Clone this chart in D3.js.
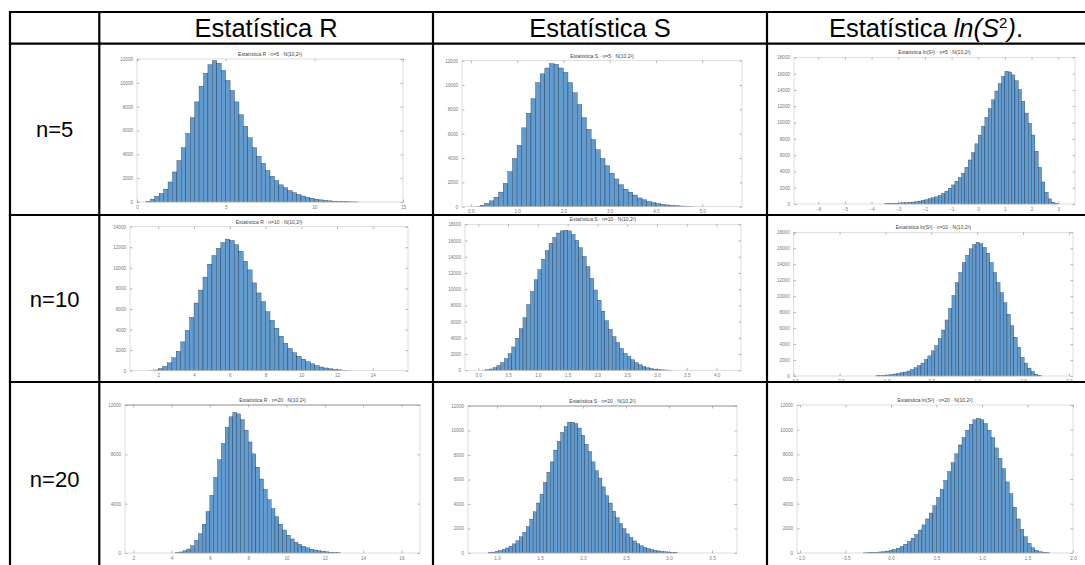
<!DOCTYPE html>
<html><head><meta charset="utf-8">
<script src="https://cdn.jsdelivr.net/npm/d3@7"></script>
<style>body{margin:0;background:#fff;} svg{display:block;font-family:"Liberation Sans",Arial,sans-serif;}</style>
</head><body><svg id="c" width="1085" height="565"></svg>
<script>
// ---------------- data ----------------
const columnHeaders = ["Estatística R", "Estatística S", "Estatística ln(S²)."];
const rowLabels = ["n=5", "n=10", "n=20"];
const plotTitles = [
  "Estatística R · n=5 · N(10,2²)", "Estatística S · n=5 · N(10,2²)", "Estatística ln(S²) · n=5 · N(10,2²)",
  "Estatística R · n=10 · N(10,2²)", "Estatística S · n=10 · N(10,2²)", "Estatística ln(S²) · n=10 · N(10,2²)",
  "Estatística R · n=20 · N(10,2²)", "Estatística S · n=20 · N(10,2²)", "Estatística ln(S²) · n=20 · N(10,2²)"
];
// histogram bins: [first bin start, bin width]; heights in % of the axis top
const rN5Bin = [0, 0.25];
const rN5 = [0,0,0.5,2,4,6,9,14,21,29,38,48,59,70,81,90,96,99,97,92,85,78,70,61,53,45,38,32,27,22,18,15,12,10,8,6.5,5.2,4.2,3.3,2.6,2,1.5,1.1,0.8,0.6,0.4,0.3,0.2,0.1,0.05];
const sN5Bin = [0, 0.1];
const sN5 = [0,0.2,1,2.3,4,6.5,10,16,24,33,42,54,64,74,85,91,95,98,97.5,95,92,85,78,70,61,53,46,39,33,28,23,19,15,12,10,8,6,4.8,3.6,2.8,2.2,1.6,1.2,0.9,0.7,0.5,0.4,0.3];
const lN5Bin = [-3.5, 0.125];
const lN5 = [0.3,0.4,0.5,0.6,0.7,0.8,0.9,1.1,1.3,1.6,2.0,2.5,3.0,3.6,4.2,4.9,5.8,7.2,8.8,10.8,13,15.5,18,21,25,30,35,41,47,53,59,65,71,77,82,87,90.5,90,88,84,78,70,62,55,47,36,25,15,8,3.5,1.2,0.3];
const rN10Bin = [1.5, 0.25];
const rN10 = [0.1,0.5,1.5,3,5.5,9,13.5,20,28,37,47,56,65,74,80,85,89,91.4,90.5,87.5,83,76,70,61,54,48,41,35,29.5,24,19,15.5,12.5,10,8,6.2,4.8,3.6,2.6,1.9,1.3,0.9,0.6,0.35,0.2];
const sN10Bin = [0, 0.0625];
const sN10 = [0,0.1,0.4,0.9,1.8,3.3,5.3,8,11.5,16,22,28.5,36,45,54,62,69,76,82,87,91,94,95.5,96,95.5,93,89,84,78,71,63,55,48,40.5,34,28,23,19,15,11.5,9.5,7.2,5.2,3.8,2.6,1.8,1.2,0.8,0.5,0.3,0.2,0.1];
const lN10Bin = [-1.2, 0.075];
const lN10 = [0.2,0.3,0.5,0.7,1.0,1.4,1.8,2.3,2.8,3.5,4.5,5.8,7.3,9,11.5,14,17.5,21,26,32,39,47,56,65,72,79,84,88.5,91.5,93,92,89.5,85.5,79,72,65,58,51,43,35,27,20,13,9,5.5,3,1.2,0.4];
const rN20Bin = [4.2, 0.2];
const rN20 = [0.2,0.7,1.5,2.7,5,8.5,13,19.5,28,39,51,63,74,85,92,95,94,90,83,75,67,58,50,43,36,30,24.5,19.5,15.5,12,9.5,7.3,5.8,4.5,3.5,2.6,2,1.5,1.1,0.8,0.5,0.3,0.2];
const sN20Bin = [0.9, 0.04];
const sN20 = [0.3,0.6,1.0,1.6,2.4,3.4,4.6,6.2,8.3,11,14,18,23,28,34,40,48,55,62,70,76,82,86,89,89,88,85,80,74,69,62,56,51,45,39,34,28.5,24,20,16.5,13,10.5,8.2,6.3,4.9,3.8,3,2.3,1.8,1.4,1,0.8,0.6,0.4,0.3];
const lN20Bin = [-0.3, 0.04];
const lN20 = [0.1,0.2,0.3,0.5,0.7,0.9,1.3,1.8,2.4,3.3,4.4,6,7.8,10,12.5,15.5,19,23,27,32,37.5,43,49,55,61,67,73,78,83,87,90,91,90,87.5,83,78,71,64,57,48,40,31,23,16,11,6.5,3.5,1.8,0.9,0.4,0.2];

// tick labels
const xTicksRN5 = [0,5,10,15];
const xTicksSN5 = [0,1,2,3,4,5];
const xTicksLN5 = [-6,-5,-4,-3,-2,-1,0,1,2,3];
const xTicksRN10 = [2,4,6,8,10,12,14];
const xTicksSN10 = [0,0.5,1,1.5,2,2.5,3,3.5,4];
const xTicksLN10 = [-3,-2,-1,0,1,2,3];
const xTicksRN20 = [2,4,6,8,10,12,14,16];
const xTicksSN20 = [1,1.5,2,2.5,3,3.5];
const xTicksLN20 = [-1,-0.5,0,0.5,1,1.5,2];
const yTicks7 = ["0","2000","4000","6000","8000","10000","12000"];
const yTicks8 = ["0","2000","4000","6000","8000","10000","12000","14000"];
const yTicks10 = ["0","2000","4000","6000","8000","10000","12000","14000","16000","18000"];
const yTicks4 = ["0","4000","8000","12000"];

// ---------------- layout ----------------
const svg = d3.select("#c");
const colX = [10, 99.3, 433, 767, 1087];
const rowY = [12, 43.7, 215, 382, 578];

const plots = [
  {data:rN5,  bin:rN5Bin,  xt:xTicksRN5,  yt:yTicks7,  L:137, R:403, T:59,   B:202,   xd:[0,15]},
  {data:sN5,  bin:sN5Bin,  xt:xTicksSN5,  yt:yTicks7,  L:462, R:742, T:60.7, B:206.7, xd:[-0.19,5.86]},
  {data:lN5,  bin:lN5Bin,  xt:xTicksLN5,  yt:yTicks10, L:794, R:1075,T:57.3, B:204,   xd:[-6.91,3.63]},
  {data:rN10, bin:rN10Bin, xt:xTicksRN10, yt:yTicks8,  L:130, R:408, T:226.7,B:370.7, xd:[0.417,15.97]},
  {data:sN10, bin:sN10Bin, xt:xTicksSN10, yt:yTicks10, L:465, R:741, T:224.3,B:370.3, xd:[-0.223,4.41]},
  {data:lN10, bin:lN10Bin, xt:xTicksLN10, yt:yTicks10, L:793.7,R:1073,T:232.3,B:376,  xd:[-3,3.09]},
  {data:rN20, bin:rN20Bin, xt:xTicksRN20, yt:yTicks4,  L:125, R:420, T:405,  B:553,   xd:[1.57,16.97], topDark:true},
  {data:sN20, bin:sN20Bin, xt:xTicksSN20, yt:yTicks7,  L:468, R:737, T:406,  B:553,   xd:[0.663,3.79], topDark:true},
  {data:lN20, bin:lN20Bin, xt:xTicksLN20, yt:yTicks7,  L:797, R:1073,T:405,  B:553,   xd:[-1.033,2]}
];

function drawPlot(cfg, title) {
  const g = svg.append("g");
  const x = d3.scaleLinear().domain(cfg.xd).range([cfg.L, cfg.R]);
  const y = d3.scaleLinear().domain([0, 100]).range([cfg.B, cfg.T]);
  const yPos = cfg.yt.map((t, i) => i * 100 / (cfg.yt.length - 1));

  // bars
  const bw = x(cfg.bin[0] + cfg.bin[1]) - x(cfg.bin[0]);
  g.append("g").selectAll("rect").data(cfg.data).join("rect")
    .attr("x", (d, i) => x(cfg.bin[0] + i * cfg.bin[1]))
    .attr("width", bw)
    .attr("y", d => y(d))
    .attr("height", d => y(0) - y(d))
    .attr("fill", "#629bcf")
    .attr("stroke", "#13263a")
    .attr("stroke-width", 0.32);

  // box
  g.append("rect").attr("x", cfg.L).attr("y", cfg.T)
    .attr("width", cfg.R - cfg.L).attr("height", cfg.B - cfg.T)
    .attr("fill", "none").attr("stroke", "#cfcfcf").attr("stroke-width", 0.7);
  if (cfg.topDark) {
    g.append("line").attr("x1", cfg.L).attr("x2", cfg.R).attr("y1", cfg.T).attr("y2", cfg.T)
      .attr("stroke", "#8a8a8a").attr("stroke-width", 0.8);
  }

  const style = sel => {
    sel.select(".domain").remove();
    sel.selectAll(".tick line").attr("stroke", "#8a8a8a").attr("stroke-width", 0.6);
    sel.selectAll(".tick text").attr("fill", "#777").attr("font-size", 4.6)
      .attr("font-family", "Liberation Sans, Arial, sans-serif");
  };
  g.append("g").attr("transform", `translate(0,${cfg.B})`)
    .call(d3.axisBottom(x).tickValues(cfg.xt).tickSizeInner(-2.5).tickSizeOuter(0).tickPadding(3.5)).call(style);
  g.append("g").attr("transform", `translate(0,${cfg.T})`)
    .call(d3.axisTop(x).tickValues(cfg.xt).tickSizeInner(-2.5).tickSizeOuter(0).tickFormat(() => "")).call(style);
  g.append("g").attr("transform", `translate(${cfg.L},0)`)
    .call(d3.axisLeft(y).tickValues(yPos).tickFormat((d, i) => cfg.yt[i]).tickSizeInner(-2.5).tickSizeOuter(0).tickPadding(4)).call(style);
  g.append("g").attr("transform", `translate(${cfg.R},0)`)
    .call(d3.axisRight(y).tickValues(yPos).tickSizeInner(-2.5).tickSizeOuter(0).tickFormat(() => "")).call(style);

  g.append("text").attr("x", (cfg.L + cfg.R) / 2).attr("y", cfg.T - 3)
    .attr("text-anchor", "middle").attr("font-size", 5).attr("fill", "#444").text(title);
}
plots.forEach((p, i) => drawPlot(p, plotTitles[i]));

// table grid
const grid = svg.append("g").attr("stroke", "#000").attr("stroke-width", 2.2);
colX.forEach(cx => grid.append("line").attr("x1", cx).attr("x2", cx).attr("y1", rowY[0]).attr("y2", rowY[rowY.length - 1]));
rowY.forEach(ry => grid.append("line").attr("x1", colX[0] - 1.1).attr("x2", colX[colX.length - 1]).attr("y1", ry).attr("y2", ry));

// headers
const headerY = 37;
const headerSize = 25.5;
[0, 1].forEach(i => {
  svg.append("text").attr("x", (colX[i + 1] + colX[i + 2]) / 2).attr("y", headerY)
    .attr("text-anchor", "middle").attr("font-size", headerSize).attr("fill", "#000").text(columnHeaders[i]);
});
const h3 = svg.append("text").attr("x", 926).attr("y", headerY)
  .attr("text-anchor", "middle").attr("font-size", headerSize).attr("fill", "#000");
h3.append("tspan").text("Estatística ");
h3.append("tspan").attr("font-style", "italic").text("ln(S");
h3.append("tspan").attr("font-size", 15).attr("dy", -9).text("2");
h3.append("tspan").attr("font-style", "italic").attr("dy", 9).text(")");
h3.append("tspan").text(".");

// row labels
const rowCentersY = [137, 307, 487];
rowLabels.forEach((t, i) => {
  svg.append("text").attr("x", (colX[0] + colX[1]) / 2).attr("y", rowCentersY[i])
    .attr("text-anchor", "middle").attr("font-size", 22).attr("fill", "#000").text(t);
});
</script></body></html>
